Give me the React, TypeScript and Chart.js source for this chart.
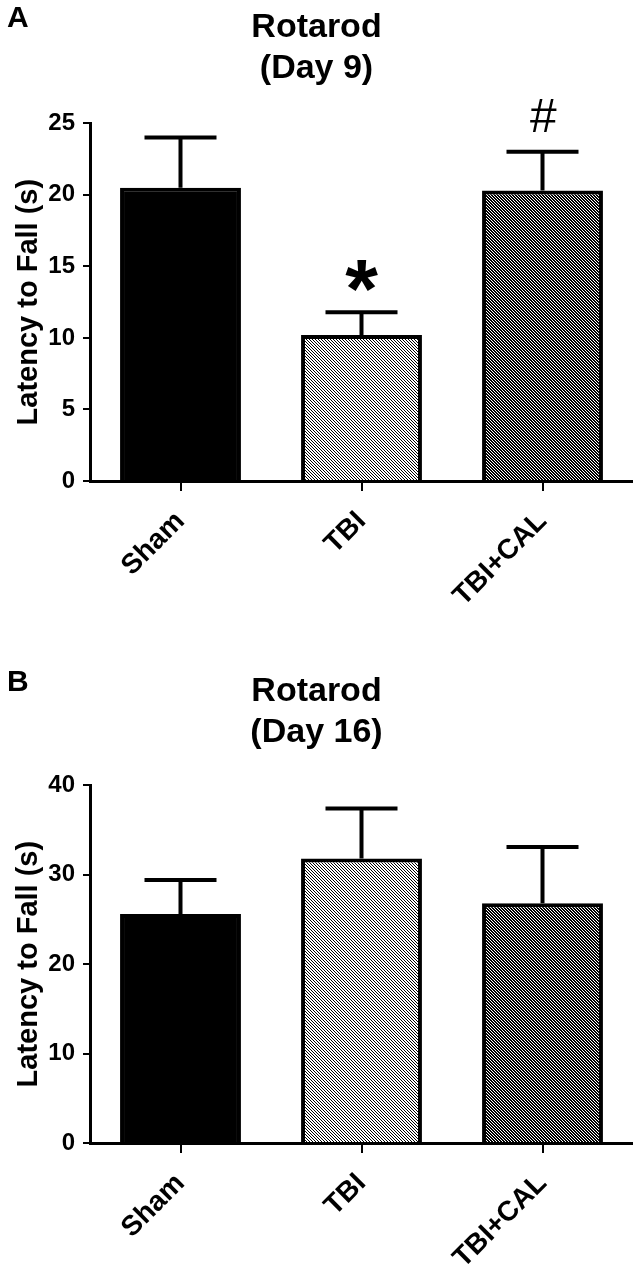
import React, { useEffect, useRef } from "react";
import { Chart, registerables } from "chart.js";

Chart.register(...registerables);

const FONT = "'Liberation Sans', Arial, sans-serif";

const categories = ["Sham", "TBI", "TBI+CAL"];

const day9Title = ["Rotarod", "(Day 9)"];
const day9Means = [20.5, 10.2, 20.3];
const day9Sem = [3.5, 1.6, 2.7];
const day9Marks = ["", "*", "#"];
const day9Ticks = [0, 5, 10, 15, 20, 25];

const day16Title = ["Rotarod", "(Day 16)"];
const day16Means = [25.6, 31.8, 26.8];
const day16Sem = [3.8, 5.6, 6.3];
const day16Marks = ["", "", ""];
const day16Ticks = [0, 10, 20, 30, 40];

const yTitle = "Latency to Fall (s)";

function makePattern(dark: boolean): CanvasPattern | string {
  const size = 3;
  const c = document.createElement("canvas");
  c.width = size;
  c.height = size;
  const ctx = c.getContext("2d");
  if (!ctx) return dark ? "#555" : "#aaa";
  const img = ctx.createImageData(size, size);
  for (let y = 0; y < size; y++) {
    for (let x = 0; x < size; x++) {
      const d = (((x - y) % size) + size) % size;
      const black = dark ? d !== 1 : d === 0;
      const i = (y * size + x) * 4;
      const v = black ? 0 : 255;
      img.data[i] = v;
      img.data[i + 1] = v;
      img.data[i + 2] = v;
      img.data[i + 3] = 255;
    }
  }
  ctx.putImageData(img, 0, 0);
  const p = ctx.createPattern(c, "repeat");
  return p || (dark ? "#555" : "#aaa");
}

type PanelProps = {
  letter: string;
  title: string[];
  means: number[];
  sems: number[];
  marks: string[];
  ticks: number[];
  height: number;
  titleTop: number;
  titleBottom: number;
  xAxisHeight: number;
};

function Panel(props: PanelProps) {
  const ref = useRef<HTMLCanvasElement | null>(null);
  useEffect(() => {
    const canvas = ref.current;
    if (!canvas) return;
    const light = makePattern(false);
    const dark = makePattern(true);

    const decor = {
      id: "decor",
      afterDatasetsDraw(chart: any) {
        const ctx = chart.ctx;
        const yScale = chart.scales.y;
        const meta = chart.getDatasetMeta(0);
        ctx.save();
        ctx.strokeStyle = "#000";
        ctx.fillStyle = "#000";
        ctx.lineWidth = 4;
        ctx.lineCap = "butt";
        meta.data.forEach((bar: any, i: number) => {
          const top = yScale.getPixelForValue(props.means[i] + props.sems[i]);
          const base = yScale.getPixelForValue(props.means[i]);
          ctx.beginPath();
          ctx.moveTo(bar.x, base);
          ctx.lineTo(bar.x, top);
          ctx.moveTo(bar.x - 36, top);
          ctx.lineTo(bar.x + 36, top);
          ctx.stroke();
          const mark = props.marks[i];
          if (mark) {
            const isStar = mark === "*";
            const size = isStar ? 84 : 48;
            ctx.font = `${isStar ? "bold" : "italic"} ${size}px ${FONT}`;
            ctx.textAlign = "center";
            ctx.textBaseline = "alphabetic";
            const m = ctx.measureText(mark);
            const asc = m.actualBoundingBoxAscent;
            const desc = m.actualBoundingBoxDescent;
            const cy = top - 36;
            ctx.fillText(mark, bar.x, cy + (asc - desc) / 2);
          }
        });
        ctx.font = `bold 30px ${FONT}`;
        ctx.textAlign = "left";
        ctx.textBaseline = "top";
        ctx.fillText(props.letter, 7, props.titleTop - 4);
        ctx.restore();
      },
    };

    const tickFont = { family: FONT, size: 24, weight: "bold" as const };
    const xTickFont = { family: FONT, size: 28, weight: "bold" as const };

    const chart = new Chart(canvas, {
      type: "bar",
      data: {
        labels: categories,
        datasets: [
          {
            data: props.means,
            backgroundColor: ["#000", light, dark] as any,
            borderColor: "#000",
            borderWidth: 4,
            barPercentage: 0.668,
            categoryPercentage: 1,
          },
        ],
      },
      options: {
        responsive: false,
        animation: false,
        layout: { padding: 0 },
        plugins: {
          legend: { display: false },
          tooltip: { enabled: false },
          title: {
            display: true,
            text: props.title,
            color: "#000",
            font: { family: FONT, size: 34, weight: "bold", lineHeight: 1.18 },
            padding: { top: props.titleTop, bottom: props.titleBottom },
          },
        },
        scales: {
          x: {
            grid: {
              display: true,
              drawOnChartArea: false,
              offset: false,
              tickLength: 10,
              color: "#000",
              lineWidth: 2,
            },
            border: { display: true, color: "#000", width: 3 },
            ticks: {
              color: "#000",
              font: xTickFont,
              minRotation: 45,
              maxRotation: 45,
              padding: 14,
            },
            afterFit: (s: any) => {
              s.height = props.xAxisHeight;
            },
          },
          y: {
            min: props.ticks[0],
            max: props.ticks[props.ticks.length - 1],
            afterBuildTicks: (s: any) => {
              s.ticks = props.ticks.map((v) => ({ value: v }));
            },
            grid: {
              display: true,
              drawOnChartArea: false,
              tickLength: 7,
              color: "#000",
              lineWidth: 2,
            },
            border: { display: true, color: "#000", width: 3 },
            ticks: { color: "#000", font: tickFont, padding: 8 },
            title: {
              display: true,
              text: yTitle,
              color: "#000",
              font: { family: FONT, size: 29, weight: "bold" },
              padding: { top: 12, bottom: 0 },
            },
            afterFit: (s: any) => {
              s.width = 90;
            },
          },
        },
      },
      plugins: [decor],
    });
    return () => chart.destroy();
  }, []);
  return (
    <canvas
      ref={ref}
      width={633}
      height={props.height}
      style={{ display: "block", width: 633, height: props.height }}
    />
  );
}

export default function App() {
  return (
    <div style={{ position: "absolute", left: 0, top: 0, width: 633, background: "#fff" }}>
      <Panel
        letter="A"
        title={day9Title}
        means={day9Means}
        sems={day9Sem}
        marks={day9Marks}
        ticks={day9Ticks}
        height={640}
        titleTop={8}
        titleBottom={35}
        xAxisHeight={159}
      />
      <Panel
        letter="B"
        title={day16Title}
        means={day16Means}
        sems={day16Sem}
        marks={day16Marks}
        ticks={day16Ticks}
        height={637}
        titleTop={32}
        titleBottom={33}
        xAxisHeight={134}
      />
    </div>
  );
}
